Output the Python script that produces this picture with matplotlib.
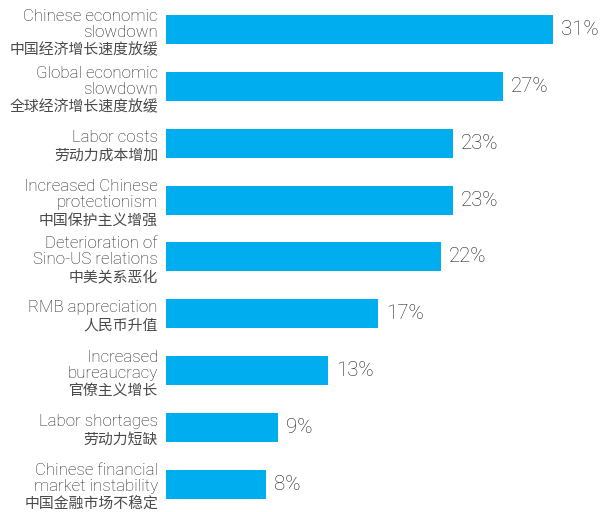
import matplotlib
matplotlib.use('Agg')
import matplotlib.pyplot as plt

# data, top to bottom
labels_en = ['Chinese economic\nslowdown', 'Global economic\nslowdown', 'Labor costs',
             'Increased Chinese\nprotectionism', 'Deterioration of\nSino-US relations',
             'RMB appreciation', 'Increased\nbureaucracy', 'Labor shortages',
             'Chinese financial\nmarket instability']
labels_cn = ['中国经济增长速度放缓', '全球经济增长速度放缓', '劳动力成本增加',
             '中国保护主义增强', '中美关系恶化', '人民币升值', '官僚主义增长',
             '劳动力短缺', '中国金融市场不稳定']
values = [31, 27, 23, 23, 22, 17, 13, 9, 8]

bar_color = '#00ADEF'
text_color = '#222222'

fig = plt.figure(figsize=(6.02, 5.12), dpi=100)
ax = fig.add_axes([166 / 602, 0.0, (553 - 166) / 602, 1.0])

ypos = list(range(len(values)))
ax.barh(ypos, values, height=0.51, color=bar_color)
ax.set_xlim(0, 31)
ax.set_ylim(8.49, -0.523)
ax.axis('off')

px = 0.72  # pixels -> points at dpi 100
for i, (en, cn, v) in enumerate(zip(labels_en, labels_cn, values)):
    n_en = en.count('\n') + 1
    en_base = -1.5 + (n_en - 1) * 8.5   # px below bar centre, last english line
    cn_base = en_base + 17.5
    ax.annotate(en, xy=(0, i), xytext=(-8 * px, -en_base * px), textcoords='offset points',
                ha='right', va='baseline', fontsize=12.2, color=text_color,
                family=['Roboto', 'DejaVu Sans'], fontweight='light',
                linespacing=1.07, annotation_clip=False)
    ax.annotate(cn, xy=(0, i), xytext=(-8 * px, -cn_base * px), textcoords='offset points',
                ha='right', va='baseline', fontsize=10.7, color='#4a4a4a',
                family=['Noto Sans CJK SC', 'DejaVu Sans'],
                annotation_clip=False)
    ax.annotate(f'{v}%', xy=(v, i), xytext=(8 * px, 0), textcoords='offset points',
                ha='left', va='center', fontsize=14.8, color=text_color,
                family=['Roboto', 'DejaVu Sans'], fontweight='light',
                annotation_clip=False)

fig.savefig('out.png', dpi=100)
